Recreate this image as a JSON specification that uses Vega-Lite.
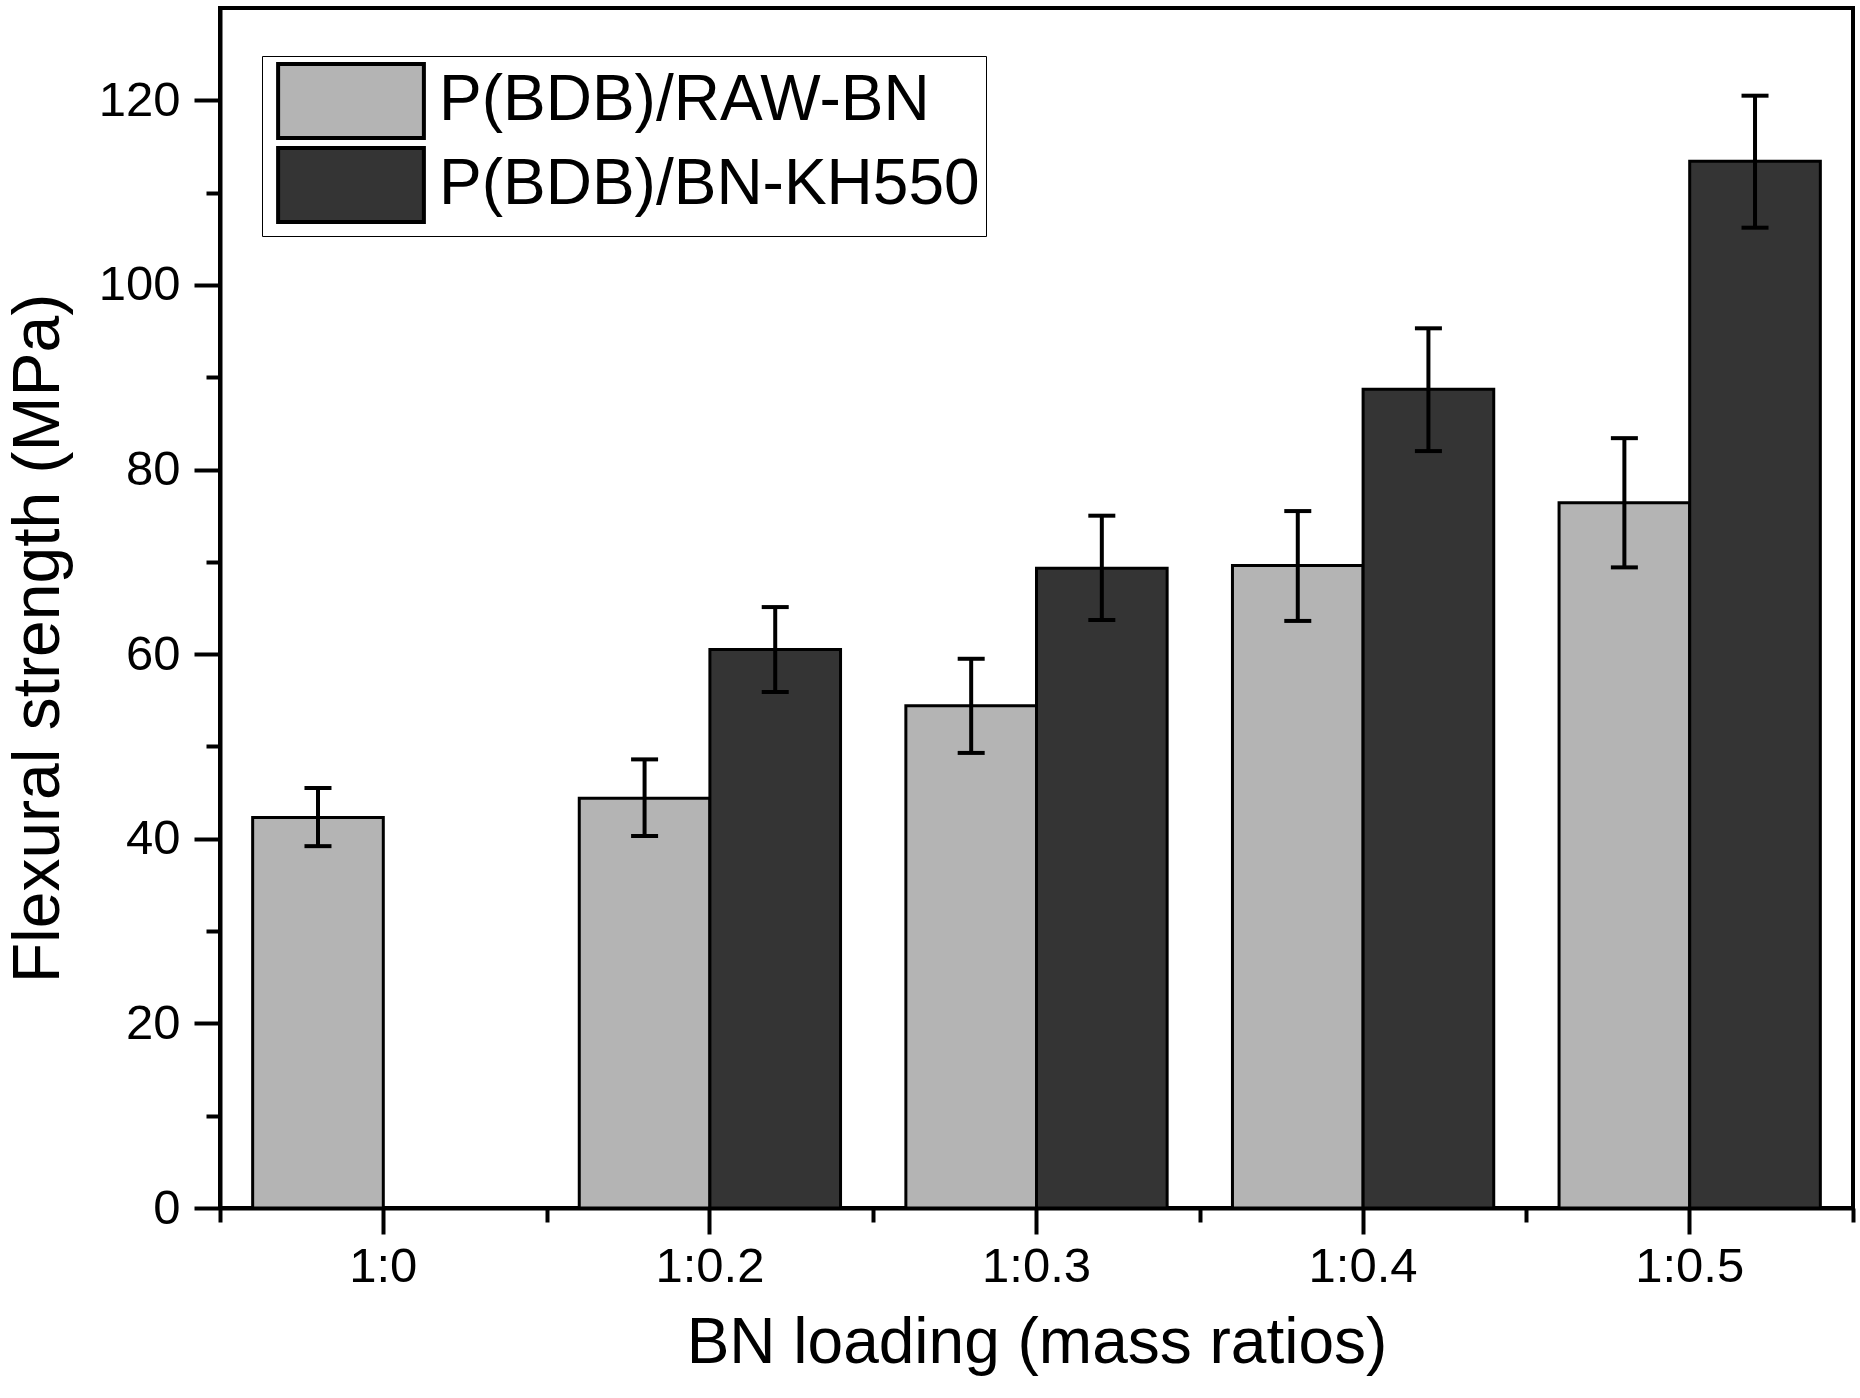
{
  "$schema": "https://vega.github.io/schema/vega-lite/v6.json",
  "width": 1633,
  "height": 1200,
  "autosize": {"type": "none"},
  "padding": {"left": 220, "top": 8, "right": 7, "bottom": 190},
  "background": "white",
  "config": {
    "font": "Liberation Sans",
    "view": {"stroke": "black", "strokeWidth": 4},
    "axis": {
      "grid": false,
      "labelFont": "Liberation Sans",
      "titleFont": "Liberation Sans",
      "labelColor": "black",
      "titleColor": "black",
      "tickColor": "black",
      "domainColor": "black",
      "tickWidth": 4,
      "domainWidth": 4,
      "titleFontWeight": "normal"
    }
  },
  "data": {
    "values": [
      {"ratio": "1:0", "series": "P(BDB)/RAW-BN", "strength": 42.3, "lo": 39.2, "hi": 45.5},
      {"ratio": "1:0.2", "series": "P(BDB)/RAW-BN", "strength": 44.4, "lo": 40.3, "hi": 48.6},
      {"ratio": "1:0.2", "series": "P(BDB)/BN-KH550", "strength": 60.5, "lo": 55.9, "hi": 65.1},
      {"ratio": "1:0.3", "series": "P(BDB)/RAW-BN", "strength": 54.4, "lo": 49.3, "hi": 59.5},
      {"ratio": "1:0.3", "series": "P(BDB)/BN-KH550", "strength": 69.3, "lo": 63.7, "hi": 75.0},
      {"ratio": "1:0.4", "series": "P(BDB)/RAW-BN", "strength": 69.6, "lo": 63.6, "hi": 75.5},
      {"ratio": "1:0.4", "series": "P(BDB)/BN-KH550", "strength": 88.7, "lo": 82.0, "hi": 95.3},
      {"ratio": "1:0.5", "series": "P(BDB)/RAW-BN", "strength": 76.4, "lo": 69.4, "hi": 83.4},
      {"ratio": "1:0.5", "series": "P(BDB)/BN-KH550", "strength": 113.4, "lo": 106.2, "hi": 120.5}
    ]
  },
  "encoding": {
    "x": {
      "field": "ratio",
      "type": "nominal",
      "sort": ["1:0", "1:0.2", "1:0.3", "1:0.4", "1:0.5"],
      "scale": {"paddingInner": 0, "paddingOuter": 0}
    },
    "xOffset": {
      "field": "series",
      "type": "nominal",
      "scale": {"domain": ["P(BDB)/RAW-BN", "P(BDB)/BN-KH550"], "paddingInner": 0, "paddingOuter": 0.25}
    }
  },
  "layer": [
    {
      "mark": {"type": "bar", "stroke": "black", "strokeWidth": 3},
      "encoding": {
        "x": {
          "field": "ratio",
          "type": "nominal",
          "sort": ["1:0", "1:0.2", "1:0.3", "1:0.4", "1:0.5"],
          "title": "BN loading (mass ratios)",
          "axis": {
            "orient": "bottom",
            "labelAngle": 0,
            "labelFontSize": 49,
            "titleFontSize": 64,
            "tickSize": 26,
            "labelPadding": 8,
            "titlePadding": 20
          }
        },
        "y": {
          "field": "strength",
          "type": "quantitative",
          "title": "Flexural strength (MPa)",
          "scale": {"domain": [0, 130], "nice": false},
          "axis": {
            "orient": "left",
            "values": [0, 20, 40, 60, 80, 100, 120],
            "labelFontSize": 49,
            "titleFontSize": 66,
            "tickSize": 26,
            "labelPadding": 14,
            "titlePadding": 26,
            "titleY": 630
          }
        },
        "fill": {
          "field": "series",
          "type": "nominal",
          "scale": {"domain": ["P(BDB)/RAW-BN", "P(BDB)/BN-KH550"], "range": ["#b4b4b4", "#343434"]},
          "legend": {
            "title": null,
            "orient": "none",
            "legendX": 42,
            "legendY": 48,
            "labelFontSize": 64,
            "labelFont": "Liberation Sans",
            "labelColor": "black",
            "labelLimit": 900,
            "symbolType": "M-1.97,-1H1.97V1H-1.97Z",
            "symbolSize": 5476,
            "symbolOffset": 44,
            "symbolStrokeColor": "black",
            "symbolStrokeWidth": 4,
            "symbolOpacity": 1,
            "labelOffset": 49,
            "rowPadding": -11,
            "padding": 6,
            "strokeColor": "black",
            "fillColor": "white"
          }
        }
      }
    },
    {
      "mark": {"type": "rule", "strokeWidth": 4, "color": "black"},
      "encoding": {
        "x": {
          "field": "ratio",
          "type": "nominal",
          "sort": ["1:0", "1:0.2", "1:0.3", "1:0.4", "1:0.5"],
          "axis": {
            "orient": "bottom",
            "title": null,
            "labels": false,
            "domain": false,
            "tickBand": "extent",
            "tickSize": 14
          }
        },
        "y": {
          "field": "lo",
          "type": "quantitative",
          "axis": {
            "orient": "left",
            "title": null,
            "labels": false,
            "domain": false,
            "values": [10, 30, 50, 70, 90, 110],
            "tickSize": 14
          }
        },
        "y2": {"field": "hi"}
      }
    },
    {
      "mark": {"type": "tick", "orient": "horizontal", "size": 27, "thickness": 4, "color": "black", "opacity": 1},
      "encoding": {
        "x": {"field": "ratio", "type": "nominal", "sort": ["1:0", "1:0.2", "1:0.3", "1:0.4", "1:0.5"], "axis": null},
        "y": {"field": "hi", "type": "quantitative", "axis": null}
      }
    },
    {
      "mark": {"type": "tick", "orient": "horizontal", "size": 27, "thickness": 4, "color": "black", "opacity": 1},
      "encoding": {
        "x": {"field": "ratio", "type": "nominal", "sort": ["1:0", "1:0.2", "1:0.3", "1:0.4", "1:0.5"], "axis": null},
        "y": {"field": "lo", "type": "quantitative", "axis": null}
      }
    }
  ],
  "resolve": {"axis": {"x": "independent", "y": "independent"}}
}
